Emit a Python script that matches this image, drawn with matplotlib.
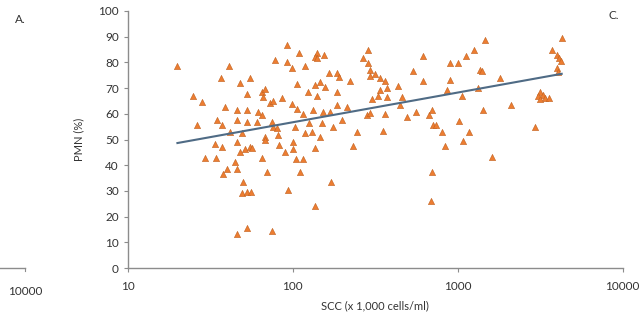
import numpy as np
import matplotlib.pyplot as plt
from matplotlib.lines import Line2D

plt.rcParams['font.family'] = ['Lato', 'DejaVu Sans']

# ==================================================
# Data
# ==================================================

scc = [
    20, 41, 92, 78, 92, 99, 106, 36.6, 48, 55, 52.6, 65, 67.6, 66, 24.8, 28,
    38.7, 45.8, 53, 62, 65, 72.6, 75.7, 85.8, 99, 106, 26.2, 34.6, 37, 45.8,
    52.6, 61, 74.6, 75.7, 41.5, 109,
    140, 154, 136, 141, 118, 285, 266, 285, 293, 293, 314, 337, 361, 614, 534,
    614, 165, 185, 190, 221, 136, 146, 156, 123, 140, 185, 337, 372, 327, 372,
    433, 458, 301, 445, 185, 212, 132, 152, 168, 115, 281, 293, 361, 491, 556,
    667, 695, 198, 125, 150, 175, 130, 244, 351, 705,
    1459, 4266, 1250, 1117, 895, 1000, 1359, 1400, 3715, 3981, 4093, 4207,
    3981, 4036, 895, 1798, 857, 1057, 1321, 3142, 3055, 3280, 3365, 3562,
    3142, 2096, 1419, 1014, 740, 1166, 800, 2931, 1607, 1072, 834, 695, 685,
    118, 146, 136, 231, 115, 110, 170, 136,
    49, 67.6, 81, 34, 37.5, 45.8, 55, 56.5, 51, 47.7, 67.6, 83, 89.6, 100,
    100, 29.3, 34.1, 44.5, 65, 104, 39.8, 37.7, 45.8, 69.5, 49.8, 49, 52.6,
    56, 93, 45.8, 53, 74.6, 80, 103,
]

pmn = [
    78.6, 78.6, 86.8, 81, 80, 77.8, 71.6, 74, 72, 74, 67.7, 68.5, 69.6, 66.5,
    67, 64.6, 62.6, 61.5, 61.5, 60.7, 59.5, 64.2, 65, 66.1, 63.8, 61.9, 55.6,
    57.6, 55.6, 57.6, 56.8, 56.8, 56.8, 54.9, 52.9, 83.7,
    83.7, 82.9, 82.1, 81.7, 78.6, 84.8, 81.7, 79.8, 77, 74.7, 75.5, 74, 72.8,
    82.5, 76.7, 72.8, 75.9, 75.9, 74.3, 72.8, 71.2, 72.4, 70.4, 68.5, 67,
    68.5, 69.3, 70, 67, 66.5, 70.8, 66.5, 65.8, 63.4, 63.4, 62.6, 61.5, 60.7,
    60.7, 59.9, 59.5, 60.3, 59.9, 58.8, 60.7, 59.5, 61.5, 57.6, 56.4, 56.4,
    54.9, 52.9, 52.9, 53.3, 55.6,
    88.7, 89.5, 84.8, 82.5, 79.8, 79.8, 77, 76.7, 84.8, 82.9, 81.7, 80.5,
    77.8, 76.3, 73.2, 74, 69.3, 67, 70, 68.5, 67, 67.3, 66.1, 66.1, 65.8,
    63.4, 61.5, 57.2, 55.6, 52.9, 52.9, 54.9, 43.2, 49.4, 47.5, 37.4, 26.1,
    52.5, 51, 46.7, 47.5, 42.4, 37.4, 33.5, 24.1,
    52.5, 51, 51.8, 48.2, 47.1, 49, 47.1, 46.7, 46.3, 45.1, 49.8, 47.9, 45.1,
    49, 46.3, 42.8, 42.8, 41.2, 42.8, 42.4, 38.5, 36.6, 38.5, 37.4, 33.5,
    29.2, 29.6, 29.6, 30.4, 13.2, 15.6, 14.4, 54.5, 54.9,
]

# logarithmic trendline y = a + b*ln(x), as drawn in the reference
trend_a = 33.6
trend_b = 5.02

x_ticks = [10, 100, 1000, 10000]
y_ticks = list(range(0, 101, 10))

# ==================================================
# Plot
# ==================================================

fig = plt.figure(figsize=(6.42, 3.23), dpi=100)
ax = fig.add_axes([0.199, 0.170, 0.771, 0.796])

ax.scatter(scc, pmn, marker="^", s=20, color="#ED7D31",
           edgecolors="#C0601E", linewidths=0.4, zorder=3)

x = np.array(scc, dtype=float)
xt = np.array([x.min(), x.max()])
ax.plot(xt, trend_a + trend_b * np.log(xt), color="#4F6B85", lw=1.5, zorder=4)

ax.set_xscale("log")
ax.set_xlim(10, 10000)
ax.set_ylim(0, 100)
ax.set_xticks(x_ticks)
ax.set_xticklabels([str(t) for t in x_ticks])
ax.minorticks_off()
ax.set_yticks(y_ticks)

for side in ["top", "right"]:
    ax.spines[side].set_visible(False)
for side in ["left", "bottom"]:
    ax.spines[side].set_color("#8C8C8C")
    ax.spines[side].set_linewidth(1.0)
ax.tick_params(colors="#8C8C8C", labelcolor="#333333", labelsize=8.5,
               length=3, width=0.8)
ax.tick_params(axis="x", pad=6)

ax.set_xlabel("SCC (x 1,000 cells/ml)", fontsize=8, color="#333333", labelpad=6)
ax.set_ylabel("PMN (%)", fontsize=8, color="#333333", labelpad=10)

# neighbouring panel fragments
fig.text(0.032, 0.941, "A.", fontsize=8.5, color="#333333", ha="center", va="center")
fig.text(0.956, 0.952, "C.", fontsize=8.5, color="#333333", ha="center", va="center")
fig.text(0.039, 0.096, "10000", fontsize=8.5, color="#333333", ha="center", va="center")
fig.add_artist(Line2D([0.0, 0.039], [0.170, 0.170], color="#8C8C8C", lw=1.0))
fig.add_artist(Line2D([0.039, 0.039], [0.170, 0.160], color="#8C8C8C", lw=0.8))

fig.savefig("out.png", dpi=100)
